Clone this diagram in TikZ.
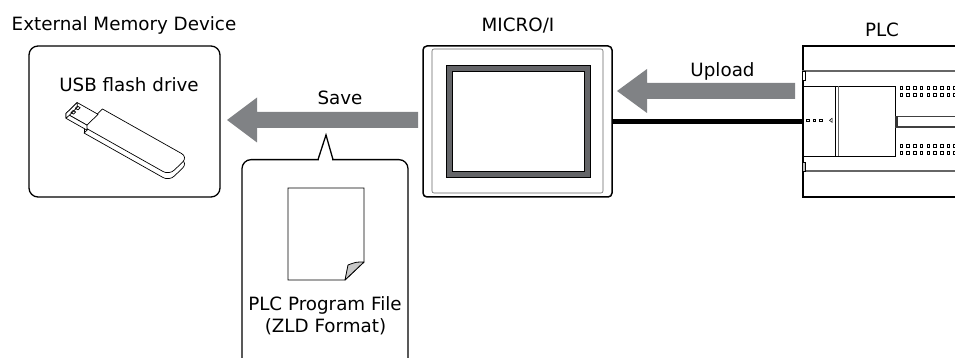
\documentclass[tikz,border=0pt]{standalone}
\usepackage{fontspec}
\setmainfont{DejaVu Sans}
\definecolor{arrowgray}{RGB}{128,130,133}
\definecolor{screengray}{RGB}{100,101,104}
\definecolor{foldgray}{RGB}{200,200,200}
\begin{document}
\begin{tikzpicture}[x=1pt,y=-1pt,
    font=\fontsize{18.3}{22}\selectfont,
    box/.style={draw, line width=1.3pt, rounded corners=9pt, inner sep=0pt},
    txt/.style={anchor=base, inner sep=0pt},
    term/.style={draw, line width=0.5pt}]
\clip (0,0) rectangle (955,358);

% external memory
\node[box, minimum width=191pt, minimum height=151pt] (usb) at (124.5,121.5) {};
\node[txt] (extlabel) at (124,31) {External Memory Device};
\node[txt] (usblabel) at (129,92) {USB flash drive};

\begin{scope}[shift={(84,127)}, x={(0.87pt,-0.49pt)}, y={(0.74pt,0.72pt)}, z={(0pt,-1pt)},
    line width=0.7pt, line join=round]
    \draw[fill=white] (0,0,6) [rounded corners=7pt] -- (98,0,6) -- (98,25,6) [sharp corners] -- (0,25,6) -- cycle;
    \draw[fill=white] (0,0,0) [rounded corners=7pt] -- (98,0,0) -- (98,25,0) [sharp corners] -- (0,25,0) -- cycle;
    \draw (0,0,0) -- (0,0,6);
    \draw[fill=white] (-24,4,1) -- (0,4,1) -- (0,19,1) -- (-24,19,1) -- cycle;
    \draw[fill=white] (-24,4,1) -- (0,4,1) -- (0,4,6) -- (-24,4,6) -- cycle;
    \draw[fill=white] (-24,4,1) -- (-24,19,1) -- (-24,19,6) -- (-24,4,6) -- cycle;
    \draw (-21,7,1) -- (-18,7,1) -- (-18,10,1) -- (-21,10,1) -- cycle;
    \draw (-21,13,1) -- (-18,13,1) -- (-18,16,1) -- (-21,16,1) -- cycle;
\end{scope}

% save arrow and file
\fill[arrowgray] (418,112) -- (257,112) -- (257,97.5) -- (227,120) -- (257,142.5) -- (257,128) -- (418,128) -- cycle;
\node[txt] (savelabel) at (340,105) {Save};

\node[box, minimum width=166pt, minimum height=220pt, anchor=north] (callout) at (325,159) {};
\fill[white] (319,157) rectangle (332,161);
\draw[line width=1.3pt] (318,159.6) -- (326,135) -- (333,159.6);

\draw[line width=0.8pt, fill=white] (288,188) -- (364,188) -- (364,262) -- (345,280) -- (288,280) -- cycle;
\draw[line width=0.8pt, fill=foldgray, line join=round] (364,262) .. controls (356,262) .. (348,265) -- (345,280) -- cycle;
\node[txt] (filelabel) at (325,310) {PLC Program File};
\node[txt] (fmtlabel) at (325.5,332) {(ZLD Format)};

% micro/i
\node[draw, line width=1.5pt, rounded corners=4pt, minimum width=189pt, minimum height=151pt] (micro) at (517.5,121.5) {};
\node[txt] (microlabel) at (518,32) {MICRO/I};
\draw[black!60, line width=0.6pt, rounded corners=2pt] (432,49) rectangle (603,193);
\draw[fill=screengray, line width=0.5pt] (446,65) rectangle (590,177);
\draw[fill=white, line width=0.5pt] (452,71) rectangle (584,171);

% plc
\node[draw, line width=2pt, minimum width=200pt, minimum height=151pt, anchor=west, inner sep=0pt] (plc) at (802,121.5) {};
\node[txt] (plclabel) at (882,37) {PLC};
\draw[line width=1.2pt, black!60] (802,71) -- ++(160,0);
\draw[line width=1.2pt, black!60] (802,171) -- ++(160,0);
\draw[line width=0.5pt, fill=white] (802,71) rectangle (805.5,80);
\draw[line width=0.5pt, fill=black!25] (802,162) rectangle (805.5,171);
\draw[line width=0.8pt] (803,86) rectangle (895,156);
\draw[line width=0.8pt] (835,86) -- (835,156);
\draw[line width=0.8pt, black!60] (838,86) -- (838,156);
\foreach \i in {0,1,2}
    \draw[term] (806.5+\i*6.5,119) rectangle ++(2.6,2.6);
\draw[line width=0.5pt] (832,118.3) -- (829.5,120.3) -- (832,122.3) -- cycle;
\draw[line width=1.5pt, black!75] (960,116.5) -- (896,116.5) -- (896,127) -- (960,127);
\fill[black!80] (895,116) rectangle (897.5,127.5);
\foreach \r in {88,95,146,153}
    \foreach \c in {0,...,8}
        \draw[term] (900+\c*6.7,\r-1.3) rectangle ++(2.6,2.6);

% upload arrow and cable
\fill[arrowgray] (795,83) -- (647,83) -- (647,69) -- (617,91) -- (647,113) -- (647,99) -- (795,99) -- cycle;
\node[txt] (uploadlabel) at (722.5,77) {Upload};
\draw[line width=5pt] (micro.east) -- (micro.east -| plc.west);
\end{tikzpicture}
\end{document}
